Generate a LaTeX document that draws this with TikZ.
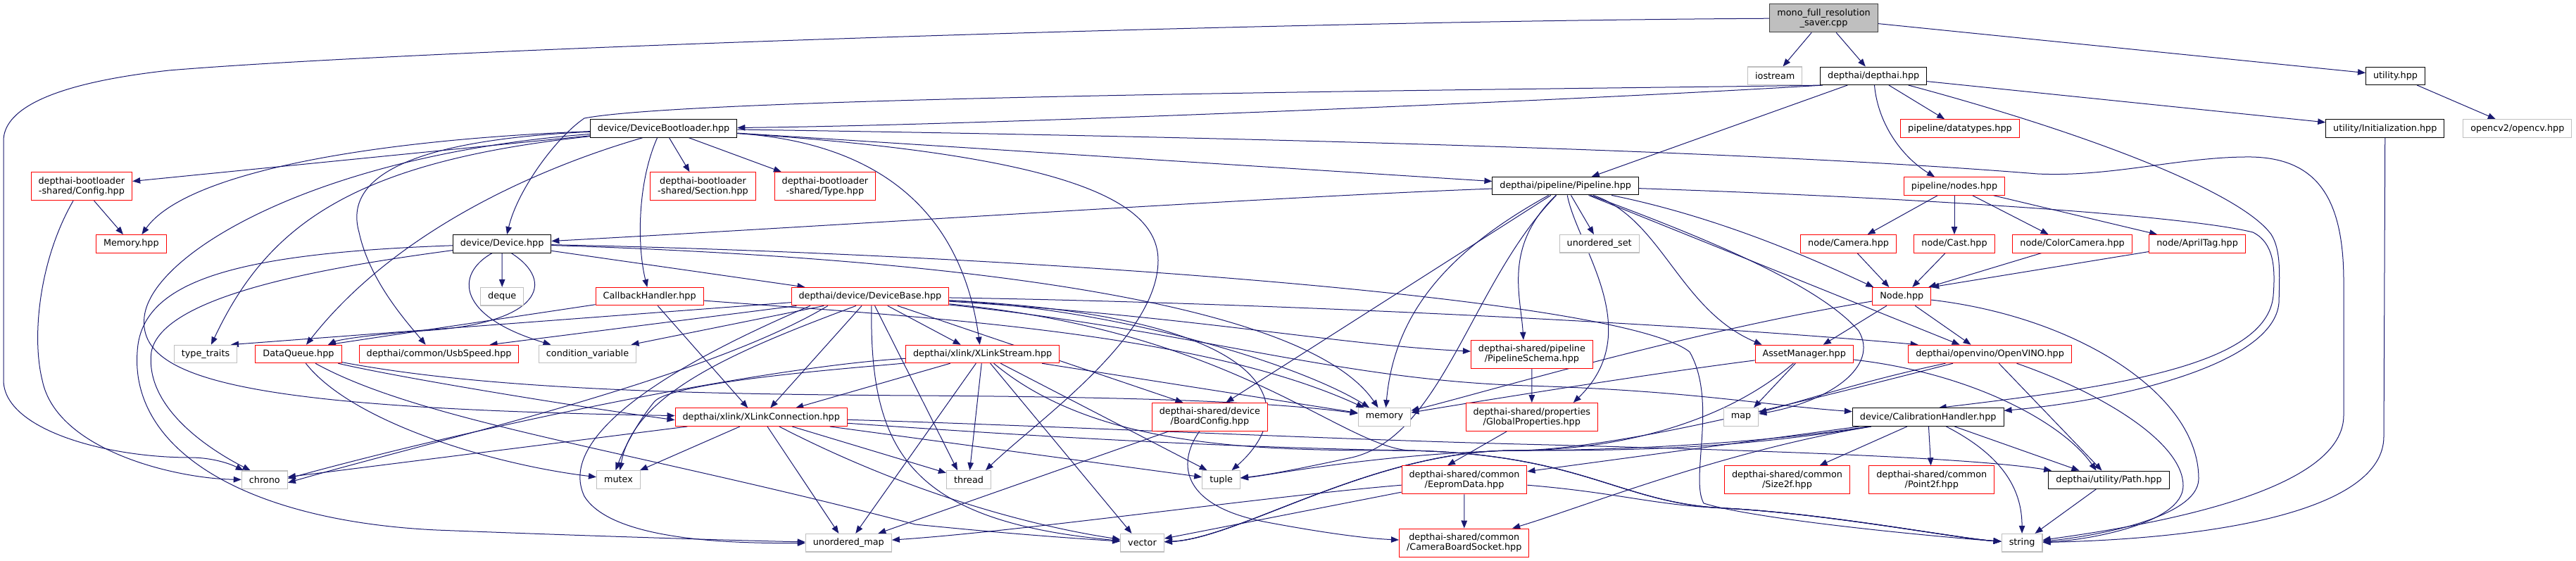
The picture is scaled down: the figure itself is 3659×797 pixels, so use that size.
\documentclass[tikz,border=0pt]{standalone}
\usepackage{fontspec}
\usepackage{tikz}
\usetikzlibrary{arrows.meta,backgrounds}
\setmainfont{DejaVu Sans}
\definecolor{inclblue}{HTML}{191970}
\definecolor{sysgrey}{HTML}{BFBFBF}
\definecolor{rootedge}{HTML}{404040}

\begin{document}
\begin{tikzpicture}[x=1pt,y=-1pt]
\tikzstyle{every node}+=[inner xsep=10.5pt,inner ysep=0pt,align=center,fill=white,line width=1pt,minimum height=25.5pt,font=\fontsize{12.8}{14}\selectfont]
\tikzstyle{hdrbox}=[draw=black]
\tikzstyle{hdrred}=[draw=red]
\tikzstyle{hdrsys}=[draw=sysgrey,line width=1.2pt]
\tikzstyle{hdrroot}=[draw=rootedge,fill=sysgrey]
\tikzstyle{twoline}=[minimum height=40pt]
\tikzstyle{incl}=[draw=inclblue,line width=1pt,-{Triangle[length=11pt,width=8.5pt]}]
\useasboundingbox (0,0) rectangle (3659,797);
% files
\node[hdrroot,twoline] (mono) at (2590.5,25.8) {mono\_full\_resolution\\\_saver.cpp};
\node[hdrsys] (iostream) at (2521.2,107.8) {iostream};
\node[hdrbox] (depthai) at (2661.2,107.8) {depthai/depthai.hpp};
\node[hdrbox] (utility) at (3402.5,107.8) {utility.hpp};
\node[hdrsys] (opencv) at (3575.8,182.5) {opencv2/opencv.hpp};
\node[hdrbox] (init) at (3387.8,182.5) {utility/Initialization.hpp};
\node[hdrred] (datatypes) at (2783.9,182.5) {pipeline/datatypes.hpp};
\node[hdrbox] (bootloader) at (942.6,182.5) {device/DeviceBootloader.hpp};
\node[hdrred] (nodes) at (2776,264.5) {pipeline/nodes.hpp};
\node[hdrred,twoline] (blconfig) at (115.9,264.7) {depthai-bootloader\\-shared/Config.hpp};
\node[hdrred,twoline] (blsection) at (998.5,264.7) {depthai-bootloader\\-shared/Section.hpp};
\node[hdrred,twoline] (bltype) at (1171.9,264.7) {depthai-bootloader\\-shared/Type.hpp};
\node[hdrbox] (pipeline) at (2223.7,264.2) {depthai/pipeline/Pipeline.hpp};
\node[hdrred] (blmemory) at (186.4,346.3) {Memory.hpp};
\node[hdrbox] (device) at (713.1,346.3) {device/Device.hpp};
\node[hdrsys] (uset) at (2271.7,346.3) {unordered\_set};
\node[hdrred] (camera) at (2625.6,346.3) {node/Camera.hpp};
\node[hdrred] (cast) at (2776,346.3) {node/Cast.hpp};
\node[hdrred] (colorcam) at (2943.6,346.3) {node/ColorCamera.hpp};
\node[hdrred] (apriltag) at (3121.1,346.3) {node/AprilTag.hpp};
\node[hdrsys] (deque) at (713.2,421.2) {deque};
\node[hdrred] (callback) at (922.6,421.2) {CallbackHandler.hpp};
\node[hdrred] (devbase) at (1235.9,421.2) {depthai/device/DeviceBase.hpp};
\node[hdrred] (basenode) at (2701.3,421.2) {Node.hpp};
\node[hdrsys] (typetraits) at (292,503) {type\_traits};
\node[hdrred] (dataqueue) at (424,503) {DataQueue.hpp};
\node[hdrred] (usbspeed) at (623.6,503) {depthai/common/UsbSpeed.hpp};
\node[hdrsys] (condvar) at (834.5,503) {condition\_variable};
\node[hdrred] (xstream) at (1395.7,503) {depthai/xlink/XLinkStream.hpp};
\node[hdrred,twoline] (schema) at (2175.9,503.3) {depthai-shared/pipeline\\/PipelineSchema.hpp};
\node[hdrred] (assets) at (2562.7,503) {AssetManager.hpp};
\node[hdrred] (openvino) at (2826.6,503) {depthai/openvino/OpenVINO.hpp};
\node[hdrred] (xconn) at (1081.2,592.7) {depthai/xlink/XLinkConnection.hpp};
\node[hdrred,twoline] (boardcfg) at (1718.4,592.3) {depthai-shared/device\\/BoardConfig.hpp};
\node[hdrsys] (memory) at (1966.5,592.5) {memory};
\node[hdrred,twoline] (globalprops) at (2175.8,592.5) {depthai-shared/properties\\/GlobalProperties.hpp};
\node[hdrsys] (map) at (2473,592.5) {map};
\node[hdrbox] (calib) at (2738.7,592.7) {device/CalibrationHandler.hpp};
\node[hdrsys] (chrono) at (375.8,681.8) {chrono};
\node[hdrsys] (mutex) at (878.5,681.5) {mutex};
\node[hdrsys] (thread) at (1376,681.5) {thread};
\node[hdrsys] (tuple) at (1734.6,681.5) {tuple};
\node[hdrred,twoline] (eeprom) at (2080,681.8) {depthai-shared/common\\/EepromData.hpp};
\node[hdrred,twoline] (size2f) at (2538.5,681.8) {depthai-shared/common\\/Size2f.hpp};
\node[hdrred,twoline] (point2f) at (2743.8,681.8) {depthai-shared/common\\/Point2f.hpp};
\node[hdrbox] (utilpath) at (2995.5,681.8) {depthai/utility/Path.hpp};
\node[hdrsys] (umap) at (1205.3,771.2) {unordered\_map};
\node[hdrsys] (vector) at (1622.5,771.2) {vector};
\node[hdrred,twoline] (socket) at (2079.7,771) {depthai-shared/common\\/CameraBoardSocket.hpp};
\node[hdrsys] (string) at (2872.1,771.2) {string};
% includes
\begin{scope}[on background layer]
\fill[white] (0,0) rectangle (3659,797);
% mono_full_resolution_saver.cpp
\draw[incl] (mono) -- (iostream);
\draw[incl] (mono) -- (depthai);
\draw[incl] (mono) -- (utility);
\draw[incl] (mono) .. controls (1800,30) and (600,70) .. (240,100) .. controls (60,120) and (5,160) .. (5,200) -- (5,540) .. controls (5,610) and (150,650) .. (270,650) .. controls (300,650) and (325,658) .. ([xshift=-30]chrono.north);
\draw[incl] (utility) -- (opencv);
\draw[incl] (init) -- (3386,620) .. controls (3386,725) and (3150,765) .. (string);
% depthai.hpp
\draw[incl] ([xshift=4]depthai.south west) .. controls (2250,142) and (1400,178) .. (bootloader);
\draw[incl] ([xshift=2]depthai.south west) .. controls (2300,126) and (1000,135) .. (830,168) .. controls (790,195) and (735,270) .. ([xshift=7]device.north);
\draw[incl] (depthai) -- (pipeline);
\draw[incl] (depthai) .. controls (2668,180) and (2705,225) .. ([xshift=-28]nodes.north);
\draw[incl] (depthai) -- (datatypes);
\draw[incl] (depthai) -- (init);
\draw[incl] (depthai) .. controls (2950,185) and (3180,270) .. (3226,333) .. controls (3240,355) and (3238,390) .. (3237,430) .. controls (3230,520) and (3000,570) .. (calib);
% device/DeviceBootloader.hpp
\draw[incl] (bootloader) -- (blconfig);
\draw[incl] (blconfig) -- (blmemory);
\draw[incl] (blconfig) .. controls (55,370) and (45,480) .. (60,540) .. controls (80,640) and (250,680) .. (chrono);
\draw[incl] (bootloader) .. controls (500,200) and (260,250) .. ([xshift=15]blmemory.north);
\draw[incl] (bootloader) -- ([xshift=-19]blsection.north);
\draw[incl] (bootloader) -- ([xshift=-62]bltype.north);
\draw[incl] ([xshift=-9]bootloader.south) .. controls (905,260) and (905,350) .. (callback);
\draw[incl] ([xshift=-30]bootloader.south) .. controls (760,240) and (560,330) .. ([xshift=11]dataqueue.north);
\draw[incl] (bootloader) .. controls (560,200) and (490,260) .. (510,330) .. controls (525,400) and (580,460) .. ([xshift=-19]usbspeed.north);
\draw[incl] (bootloader) .. controls (500,230) and (380,320) .. ([xshift=8]typetraits.north);
\draw[incl] (bootloader) .. controls (450,220) and (215,360) .. (205,450) .. controls (195,540) and (350,580) .. (xconn);
\draw[incl] (bootloader) .. controls (1280,205) and (1370,330) .. ([xshift=-4]xstream.north);
\draw[incl] (bootloader) .. controls (1500,220) and (1645,280) .. (1645,370) .. controls (1645,480) and (1470,600) .. ([xshift=24]thread.north);
\draw[incl] (bootloader) -- (pipeline);
\draw[incl] (bootloader) .. controls (1800,195) and (2500,215) .. (2894,247) .. controls (3000,252) and (3100,222) .. (3198,223) .. controls (3290,225) and (3329,280) .. (3329,400) -- (3329,590) .. controls (3329,690) and (3100,740) .. (string);
% device/Device.hpp
\draw[incl] (device) -- (deque);
\draw[incl] ([xshift=-14]device.south) .. controls (645,390) and (650,450) .. ([xshift=-52]condvar.north);
\draw[incl] ([xshift=13]device.south) .. controls (790,400) and (770,460) .. (600,470) .. controls (520,476) and (480,483) .. ([xshift=42]dataqueue.north);
\draw[incl] (device) -- (devbase);
\draw[incl] (device) .. controls (460,380) and (230,420) .. (215,500) .. controls (205,580) and (300,640) .. ([xshift=-20]chrono.north);
\draw[incl] (device) .. controls (330,360) and (200,400) .. (195,500) .. controls (185,640) and (350,740) .. (620,753) .. controls (850,762) and (1050,768) .. (umap);
\draw[incl] (device) .. controls (1300,365) and (1850,420) .. (memory);
\draw[incl] (device) .. controls (1400,360) and (2300,420) .. (2400,500) .. controls (2440,570) and (2400,680) .. (2420,715) .. controls (2500,740) and (2780,765) .. (string);
% CallbackHandler.hpp
\draw[incl] (callback) -- ([xshift=42]dataqueue.north);
\draw[incl] (callback) -- ([xshift=-19]xconn.north);
\draw[incl] (callback) .. controls (1300,450) and (1700,470) .. (memory);
% depthai/device/DeviceBase.hpp
\draw[incl] (devbase) -- ([xshift=36]typetraits.north);
\draw[incl] (devbase) -- ([xshift=72]usbspeed.north);
\draw[incl] (devbase) -- ([xshift=62]condvar.north);
\draw[incl] ([xshift=-60]devbase.south) .. controls (1000,540) and (600,630) .. ([yshift=-4]chrono.east);
\draw[incl] ([xshift=-20]devbase.south) .. controls (1040,500) and (900,560) .. ([xshift=2]mutex.north);
\draw[incl] ([xshift=-85]devbase.south) .. controls (950,520) and (790,620) .. (830,705) .. controls (870,770) and (1050,772) .. (umap);
\draw[incl] (devbase) -- ([xshift=13]xconn.north);
\draw[incl] (devbase) -- ([xshift=-31]xstream.north);
\draw[incl] (devbase) -- ([xshift=-16]thread.north);
\draw[incl] ([xshift=2]devbase.south) .. controls (1235,640) and (1290,740) .. (vector);
\draw[incl] (devbase) -- ([xshift=-38]boardcfg.north);
\draw[incl] (devbase) .. controls (1600,440) and (1850,520) .. (memory);
\draw[incl] (devbase) .. controls (1820,450) and (1850,580) .. ([xshift=15]tuple.north);
\draw[incl] (devbase) .. controls (1700,450) and (1900,490) .. (schema);
\draw[incl] (devbase) .. controls (1700,470) and (1900,540) .. (2170,548) .. controls (2400,555) and (2500,575) .. (calib);
\draw[incl] (devbase) .. controls (1800,430) and (2400,460) .. ([xshift=-102]openvino.north);
\draw[incl] (devbase) .. controls (1750,470) and (1900,630) .. (2000,640) .. controls (2250,645) and (2300,715) .. (2450,722) .. controls (2600,730) and (2780,765) .. (string);
% DataQueue.hpp
\draw[incl] (dataqueue) .. controls (560,535) and (800,575) .. ([yshift=-4]xconn.west);
\draw[incl] (dataqueue) .. controls (700,555) and (1000,560) .. (1300,562) .. controls (1600,564) and (1800,570) .. (memory);
\draw[incl] (dataqueue) .. controls (500,600) and (700,660) .. (mutex);
\draw[incl] (dataqueue) .. controls (600,600) and (900,640) .. (1300,745) .. controls (1450,760) and (1530,765) .. (vector);
% depthai/xlink/XLinkStream.hpp
\draw[incl] (xstream) -- ([xshift=49]xconn.north);
\draw[incl] (xstream) .. controls (1100,520) and (700,600) .. ([yshift=2]chrono.east);
\draw[incl] (xstream) .. controls (1250,520) and (960,540) .. (930,570) .. controls (905,600) and (885,640) .. ([xshift=-4]mutex.north);
\draw[incl] (xstream) -- (thread);
\draw[incl] (xstream) -- ([xshift=10]umap.north);
\draw[incl] (xstream) -- ([xshift=-15]vector.north);
\draw[incl] (xstream) -- ([xshift=-20]tuple.north);
\draw[incl] (xstream) -- (memory);
\draw[incl] (xstream) .. controls (1560,640) and (1800,640) .. (2000,640) .. controls (2250,645) and (2300,715) .. (2450,722) .. controls (2600,730) and (2780,765) .. (string);
% depthai/xlink/XLinkConnection.hpp
\draw[incl] (xconn) -- (chrono);
\draw[incl] (xconn) -- (mutex);
\draw[incl] (xconn) -- ([xshift=-14]umap.north);
\draw[incl] (xconn) .. controls (1250,680) and (1420,740) .. (vector);
\draw[incl] (xconn) -- (thread);
\draw[incl] (xconn) -- (tuple);
\draw[incl] (xconn) .. controls (1400,615) and (1700,635) .. (2000,640) .. controls (2250,645) and (2300,715) .. (2450,722) .. controls (2600,730) and (2780,765) .. (string);
\draw[incl] (xconn) .. controls (1500,605) and (1900,625) .. (2200,632) .. controls (2500,640) and (2800,650) .. (utilpath);
% depthai-shared
\draw[incl] (boardcfg) -- ([xshift=42]umap.north);
\draw[incl] (boardcfg) .. controls (1670,660) and (1680,720) .. (1800,742) .. controls (1880,757) and (1940,765) .. (socket);
\draw[incl] (schema) -- (globalprops);
\draw[incl] (globalprops) -- ([xshift=-24]eeprom.north);
\draw[incl] (eeprom) -- (socket);
\draw[incl] (eeprom) .. controls (1800,705) and (1450,755) .. (umap);
\draw[incl] (eeprom) -- (vector);
\draw[incl] (eeprom) .. controls (2300,700) and (2350,718) .. (2450,722) .. controls (2600,730) and (2780,765) .. (string);
% depthai/pipeline/Pipeline.hpp
\draw[incl] (pipeline) .. controls (1800,280) and (1200,320) .. (device);
\draw[incl] (pipeline) .. controls (2700,280) and (3100,305) .. (3200,330) .. controls (3230,345) and (3232,380) .. (3229,420) .. controls (3220,520) and (3000,550) .. ([xshift=15]calib.north);
\draw[incl] (pipeline) -- ([xshift=23]boardcfg.north);
\draw[incl] (pipeline) .. controls (2050,360) and (1980,450) .. ([xshift=2]memory.north);
\draw[incl] (pipeline) .. controls (2090,400) and (2050,620) .. (1920,650) .. controls (1850,665) and (1800,675) .. (tuple);
\draw[incl] (pipeline) .. controls (2135,350) and (2160,420) .. ([xshift=-12]schema.north);
\draw[incl] (pipeline) .. controls (2240,350) and (2340,470) .. ([xshift=59]globalprops.north);
\draw[incl] (pipeline) -- (uset);
\draw[incl] (pipeline) .. controls (2360,310) and (2385,440) .. ([xshift=-60]assets.north);
\draw[incl] (pipeline) .. controls (2400,330) and (2580,400) .. (2640,470) .. controls (2670,520) and (2600,570) .. (map);
\draw[incl] (pipeline) -- ([xshift=-43]openvino.north);
\draw[incl] (pipeline) .. controls (2450,310) and (2590,375) .. ([xshift=-40]basenode.north);
% pipeline/nodes.hpp
\draw[incl] (nodes) -- ([xshift=27]camera.north);
\draw[incl] (nodes) -- (cast);
\draw[incl] (nodes) -- ([xshift=-34]colorcam.north);
\draw[incl] (nodes) -- ([xshift=-57]apriltag.north);
\draw[incl] (camera) -- ([xshift=-18]basenode.north);
\draw[incl] (cast) -- ([xshift=15]basenode.north);
\draw[incl] (colorcam) -- ([xshift=-4]basenode.north east);
\draw[incl] (apriltag) -- (basenode.north east);
% Node.hpp
\draw[incl] (basenode) -- ([xshift=27]assets.north);
\draw[incl] (basenode) -- ([xshift=-27]openvino.north);
\draw[incl] (basenode) .. controls (2400,470) and (2100,560) .. (memory);
\draw[incl] (basenode) .. controls (2950,450) and (3123,560) .. (3123,680) .. controls (3123,740) and (2950,765) .. (string);
% AssetManager.hpp
\draw[incl] (assets) -- ([xshift=18]map.north);
\draw[incl] (assets) .. controls (2350,530) and (2100,570) .. (memory);
\draw[incl] (assets) .. controls (2450,600) and (2300,640) .. (2150,640) .. controls (1950,640) and (1760,765) .. (vector);
\draw[incl] (assets) .. controls (2800,530) and (2930,600) .. ([xshift=-18]utilpath.north);
% depthai/openvino/OpenVINO.hpp
\draw[incl] (openvino) .. controls (2650,540) and (2560,570) .. (map);
\draw[incl] (openvino) .. controls (2600,560) and (2300,640) .. (2150,640) .. controls (1950,640) and (1760,765) .. (vector);
\draw[incl] (openvino) .. controls (2990,560) and (3101,630) .. (3101,690) .. controls (3101,745) and (2960,768) .. (string);
\draw[incl] (openvino) -- ([xshift=-10]utilpath.north);
% device/CalibrationHandler.hpp
\draw[incl] (calib) -- (size2f);
\draw[incl] (calib) -- (point2f);
\draw[incl] (calib) -- ([xshift=-42]utilpath.north);
\draw[incl] (calib) .. controls (2850,650) and (2872,700) .. (string);
\draw[incl] (calib) -- (eeprom);
\draw[incl] (calib) .. controls (2450,640) and (2250,720) .. (socket);
\draw[incl] (calib) .. controls (2500,630) and (2300,640) .. (2150,640) .. controls (1950,645) and (1800,676) .. (tuple);
\draw[incl] (calib) .. controls (2450,640) and (2300,640) .. (2150,640) .. controls (1950,640) and (1760,765) .. (vector);
\draw[incl] (utilpath) -- (string);
\end{scope}
\end{tikzpicture}
\end{document}
